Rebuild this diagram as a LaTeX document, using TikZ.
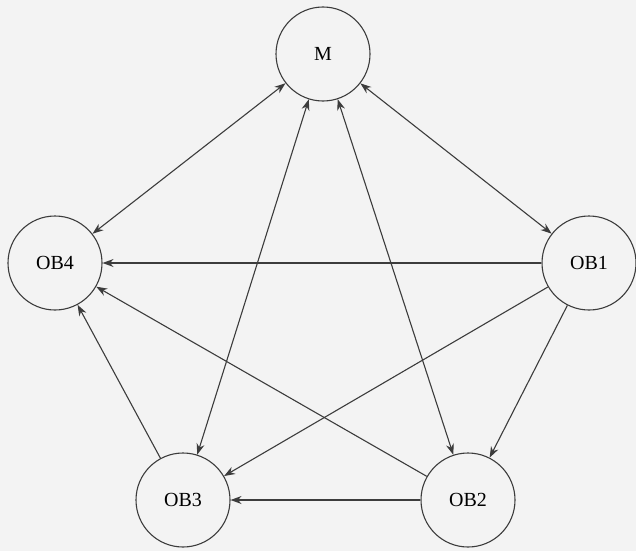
\documentclass[tikz,border=0pt]{standalone}
\usepackage{fontspec}
\setmainfont{Liberation Serif}
\usetikzlibrary{arrows.meta}
\definecolor{linegray}{RGB}{60,60,60}
\definecolor{papergray}{RGB}{243,243,243}
\tikzset{
    % agents
    agent/.style={circle, draw=linegray, line width=1.1pt, minimum size=94pt,
                  inner sep=0pt, font=\fontsize{20}{23}\selectfont},
    % one-way and two-way links
    link/.style={-{Stealth[length=11pt, width=8pt]}, line width=1.1pt, linegray},
    duplex/.style={{Stealth[length=11pt, width=8pt]}-{Stealth[length=11pt, width=8pt]},
                  line width=1.1pt, linegray},
}

\begin{document}
\begin{tikzpicture}[x=1pt, y=-1pt]
\useasboundingbox (0,0) rectangle (636,551);
\fill[papergray] (0,0) rectangle (636,551);

\node[agent] (m)   at (323,54)  {M};
\node[agent] (ob4) at (55,263)  {OB4};
\node[agent] (ob1) at (589,263) {OB1};
\node[agent] (ob3) at (183,500) {OB3};
\node[agent] (ob2) at (468,500) {OB2};

\draw[duplex] (m) -- (ob4);
\draw[duplex] (m) -- (ob1);
\draw[duplex] (m) -- (ob3);
\draw[duplex] (m) -- (ob2);

\draw[link] (ob1) -- (ob4);
\draw[link] (ob1) -- (ob3);
\draw[link] (ob1) -- (ob2);
\draw[link] (ob2) -- (ob4);
\draw[link] (ob2) -- (ob3);
\draw[link] (ob3) -- (ob4);
\end{tikzpicture}
\end{document}
